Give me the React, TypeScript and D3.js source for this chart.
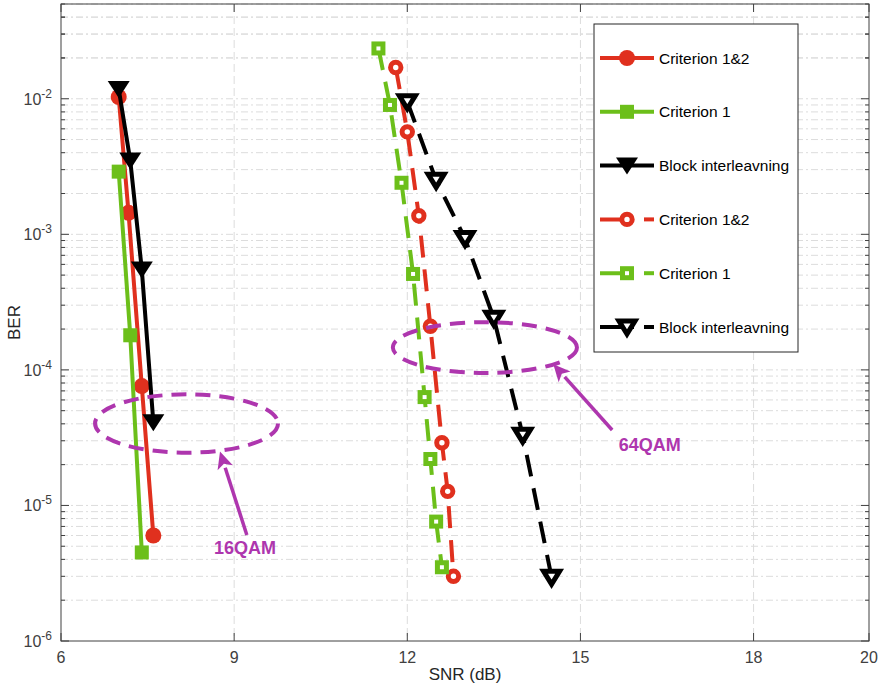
import React from "react";
import { scaleLinear, scaleLog, line } from "d3";

// 16QAM
const snr16C12 = [7, 7.17, 7.4, 7.6];
const ber16C12 = [0.0103, 1.44e-3, 7.6e-5, 6.0e-6];
const snr16C1 = [7, 7.2, 7.4];
const ber16C1 = [2.9e-3, 1.8e-4, 4.5e-6];
const snr16Blk = [7, 7.2, 7.4, 7.6];
const ber16Blk = [0.0118, 3.5e-3, 5.5e-4, 4.1e-5];

// 64QAM
const snr64C12 = [11.8, 12, 12.2, 12.4, 12.6, 12.7, 12.8];
const ber64C12 = [0.017, 5.7e-3, 1.37e-3, 2.1e-4, 2.9e-5, 1.27e-5, 3.0e-6];
const snr64C1 = [11.5, 11.7, 11.9, 12.1, 12.3, 12.4, 12.5, 12.6];
const ber64C1 = [0.0235, 9.0e-3, 2.4e-3, 5.1e-4, 6.3e-5, 2.2e-5, 7.6e-6, 3.5e-6];
const snr64Blk = [12, 12.5, 13, 13.5, 14, 14.5];
const ber64Blk = [9.5e-3, 2.5e-3, 9.3e-4, 2.4e-4, 3.3e-5, 2.95e-6];

const xTicks = [6, 9, 12, 15, 18, 20];
const yDecades = [-6, -5, -4, -3, -2];
const legendLabels = [
  "Criterion 1&2",
  "Criterion 1",
  "Block interleavning",
  "Criterion 1&2",
  "Criterion 1",
  "Block interleavning",
];

const RED = "#e0301e";
const GREEN = "#6cbf1a";
const BLACK = "#000000";
const PURPLE = "#ae36ae";
const GRID = "#dcdcdc";
const AXIS = "#404040";
const FONT = "'Liberation Sans', Arial, Helvetica, sans-serif";

type Shape = "circle" | "square" | "tri";

function Marker({ x, y, shape, color, hollow }: { x: number; y: number; shape: Shape; color: string; hollow: boolean }) {
  if (shape === "circle") {
    return hollow ? (
      <circle cx={x} cy={y} r={5.2} fill="white" stroke={color} strokeWidth={5} />
    ) : (
      <circle cx={x} cy={y} r={8} fill={color} />
    );
  }
  if (shape === "square") {
    return hollow ? (
      <rect x={x - 4.5} y={y - 4.5} width={9} height={9} fill="white" stroke={color} strokeWidth={5} />
    ) : (
      <rect x={x - 7} y={y - 7} width={14} height={14} fill={color} />
    );
  }
  const p = hollow
    ? `${x - 8},${y - 6} ${x + 8},${y - 6} ${x},${y + 7}`
    : `${x - 11},${y - 8} ${x + 11},${y - 8} ${x},${y + 9}`;
  return hollow ? (
    <polygon points={p} fill="white" stroke={color} strokeWidth={5} strokeLinejoin="miter" />
  ) : (
    <polygon points={p} fill={color} />
  );
}

export default function App() {
  const W = 881;
  const H = 691;
  const left = 61;
  const right = 869;
  const top = 4;
  const bottom = 641;

  const x = scaleLinear().domain([6, 20]).range([left, right]);
  const y = scaleLog().domain([1e-6, 0.05]).range([bottom, top]);

  const series = [
    { xs: snr16C12, ys: ber16C12, color: RED, shape: "circle" as Shape, dashed: false },
    { xs: snr16C1, ys: ber16C1, color: GREEN, shape: "square" as Shape, dashed: false },
    { xs: snr16Blk, ys: ber16Blk, color: BLACK, shape: "tri" as Shape, dashed: false },
    { xs: snr64C12, ys: ber64C12, color: RED, shape: "circle" as Shape, dashed: true },
    { xs: snr64C1, ys: ber64C1, color: GREEN, shape: "square" as Shape, dashed: true },
    { xs: snr64Blk, ys: ber64Blk, color: BLACK, shape: "tri" as Shape, dashed: true },
  ];

  const lineGen = line<[number, number]>()
    .x((d) => x(d[0]))
    .y((d) => y(d[1]));

  const minor: number[] = [];
  yDecades.forEach((e) => {
    for (let m = 2; m <= 9; m++) minor.push(m * Math.pow(10, e));
  });
  [0.02, 0.03, 0.04].forEach((v) => minor.push(v));
  const major = [...yDecades.map((e) => Math.pow(10, e))];

  // annotations (data coords)
  const ell16 = { x0: 6.59, x1: 9.76, yTop: 6.6e-5, yBot: 2.45e-5 };
  const ell64 = { x0: 11.75, x1: 14.94, yTop: 2.25e-4, yBot: 9.5e-5 };
  const arr16 = { from: [9.22, 6.05e-6], to: [8.755, 2.5e-5] };
  const arr64 = { from: [15.55, 3.6e-5], to: [14.53, 1.1e-4] };

  const Ellipse = ({ e }: { e: typeof ell16 }) => {
    const cx = (x(e.x0) + x(e.x1)) / 2;
    const cy = (y(e.yTop) + y(e.yBot)) / 2;
    return (
      <ellipse
        cx={cx}
        cy={cy}
        rx={(x(e.x1) - x(e.x0)) / 2}
        ry={(y(e.yBot) - y(e.yTop)) / 2}
        fill="none"
        stroke={PURPLE}
        strokeWidth={4}
        strokeDasharray="15,9"
      />
    );
  };

  const Arrow = ({ a }: { a: typeof arr16 }) => {
    const x1 = x(a.from[0]);
    const y1 = y(a.from[1]);
    const x2 = x(a.to[0]);
    const y2 = y(a.to[1]);
    const ang = Math.atan2(y2 - y1, x2 - x1);
    const len = 17;
    const wid = 8;
    const bx = x2 - len * Math.cos(ang);
    const by = y2 - len * Math.sin(ang);
    const px = -Math.sin(ang) * wid;
    const py = Math.cos(ang) * wid;
    return (
      <g>
        <line x1={x1} y1={y1} x2={bx} y2={by} stroke={PURPLE} strokeWidth={3.5} />
        <polygon
          points={`${x2},${y2} ${bx + px},${by + py} ${bx + (x2 - bx) * 0.25},${by + (y2 - by) * 0.25} ${bx - px},${by - py}`}
          fill={PURPLE}
        />
      </g>
    );
  };

  const legX = 594;
  const legY = 24;
  const legW = 204;
  const legH = 328;
  const rowY = (i: number) => 58 + i * 53.8;

  return (
    <svg width={W} height={H} style={{ position: "absolute", left: 0, top: 0, background: "white" }} fontFamily={FONT}>
      <defs>
        <clipPath id="plotclip">
          <rect x={left} y={top} width={right - left} height={bottom - top} />
        </clipPath>
      </defs>

      {/* grid */}
      <g stroke={GRID} strokeWidth={1} strokeDasharray="7,3,2,3" fill="none">
        {minor.map((v, i) => (
          <line key={`mg${i}`} x1={left} x2={right} y1={y(v)} y2={y(v)} />
        ))}
        {major.filter((v) => v > 1e-6).map((v, i) => (
          <line key={`Mg${i}`} x1={left} x2={right} y1={y(v)} y2={y(v)} />
        ))}
        {xTicks.filter((t) => t > 6 && t < 20).map((t) => (
          <line key={`xg${t}`} x1={x(t)} x2={x(t)} y1={top} y2={bottom} strokeDasharray="8,4" />
        ))}
      </g>

      {/* series */}
      <g clipPath="url(#plotclip)">
        {series.map((s, i) => (
          <g key={`s${i}`}>
            <path
              d={lineGen(s.xs.map((v, j) => [v, s.ys[j]] as [number, number])) || ""}
              fill="none"
              stroke={s.color}
              strokeWidth={4}
              strokeDasharray={s.dashed ? "22,12" : undefined}
            />
            {s.xs.map((v, j) => (
              <Marker key={j} x={x(v)} y={y(s.ys[j])} shape={s.shape} color={s.color} hollow={s.dashed} />
            ))}
          </g>
        ))}
      </g>

      {/* annotations */}
      <Ellipse e={ell16} />
      <Ellipse e={ell64} />
      <Arrow a={arr16} />
      <Arrow a={arr64} />
      <text x={x(9.19)} y={y(4.4e-6)} textAnchor="middle" fontSize={18} fontWeight="bold" fill={PURPLE}>
        16QAM
      </text>
      <text x={x(16.2)} y={y(2.5e-5)} textAnchor="middle" fontSize={18} fontWeight="bold" fill={PURPLE}>
        64QAM
      </text>

      {/* axes box */}
      <rect x={left} y={top} width={right - left} height={bottom - top} fill="none" stroke={AXIS} strokeWidth={1} />
      <g stroke={AXIS} strokeWidth={1}>
        {xTicks.map((t) => (
          <g key={`xt${t}`}>
            <line x1={x(t)} x2={x(t)} y1={bottom} y2={bottom - 8} />
            <line x1={x(t)} x2={x(t)} y1={top} y2={top + 8} />
          </g>
        ))}
        {major.map((v, i) => (
          <g key={`yt${i}`}>
            <line x1={left} x2={left + 8} y1={y(v)} y2={y(v)} />
            <line x1={right} x2={right - 8} y1={y(v)} y2={y(v)} />
          </g>
        ))}
        {minor.map((v, i) => (
          <g key={`ymt${i}`}>
            <line x1={left} x2={left + 4} y1={y(v)} y2={y(v)} />
            <line x1={right} x2={right - 4} y1={y(v)} y2={y(v)} />
          </g>
        ))}
      </g>

      {/* tick labels */}
      <g fill={AXIS} fontSize={16}>
        {xTicks.map((t) => (
          <text key={`xl${t}`} x={x(t)} y={bottom + 22} textAnchor="middle">
            {t}
          </text>
        ))}
        {yDecades.map((e) => (
          <text key={`yl${e}`} x={52} y={y(Math.pow(10, e)) + 6} textAnchor="end">
            10
            <tspan fontSize={12} dy={-7}>
              {e}
            </tspan>
          </text>
        ))}
      </g>
      <text x={(left + right) / 2} y={680} textAnchor="middle" fontSize={17} fill="#262626">
        SNR (dB)
      </text>
      <text transform={`translate(20, ${(top + bottom) / 2}) rotate(-90)`} textAnchor="middle" fontSize={17} fill="#262626">
        BER
      </text>

      {/* legend */}
      <rect x={legX} y={legY} width={legW} height={legH} fill="white" stroke="#262626" strokeWidth={1} />
      {series.map((s, i) => (
        <g key={`lg${i}`}>
          {s.dashed ? (
            <>
              <line x1={600} x2={634} y1={rowY(i)} y2={rowY(i)} stroke={s.color} strokeWidth={4} />
              <line x1={644} x2={654} y1={rowY(i)} y2={rowY(i)} stroke={s.color} strokeWidth={4} />
            </>
          ) : (
            <line x1={600} x2={654} y1={rowY(i)} y2={rowY(i)} stroke={s.color} strokeWidth={4} />
          )}
          <Marker x={627} y={rowY(i)} shape={s.shape} color={s.color} hollow={s.dashed} />
          <text x={659} y={rowY(i) + 5.5} fontSize={15.5} fill="#000">
            {legendLabels[i]}
          </text>
        </g>
      ))}
    </svg>
  );
}
